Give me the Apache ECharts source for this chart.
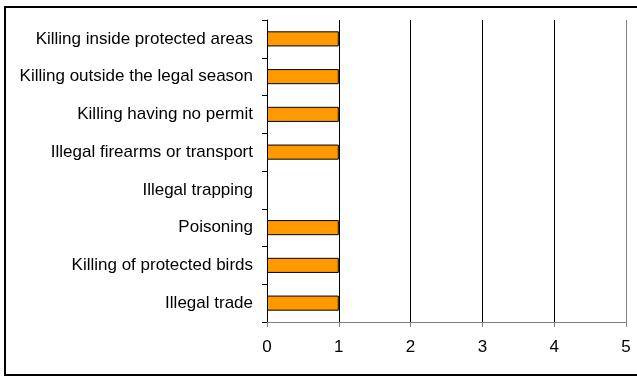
<!DOCTYPE html>
<html>
<head>
<meta charset="utf-8">
<script src="https://cdn.jsdelivr.net/npm/echarts@6/dist/echarts.min.js"></script>
<style>
html, body { margin: 0; padding: 0; background: #fff; }
#main { width: 637px; height: 376px; }
</style>
</head>
<body>
<div id="main"></div>
<script>
// categories listed bottom to top (category axis starts at the bottom)
var categories = [
    'Illegal trade',
    'Killing of protected birds',
    'Poisoning',
    'Illegal trapping',
    'Illegal firearms or transport',
    'Killing having no permit',
    'Killing outside the legal season',
    'Killing inside protected areas'
];
var values = [1, 1, 1, 0, 1, 1, 1, 1];
var xTicks = [0, 1, 2, 3, 4, 5];

var myChart = echarts.init(document.getElementById('main'));

// zero-length bars get no outline, like the original
var barData = values.map(function(v) {
    return v === 0 ? { value: v, itemStyle: { borderWidth: 0 } } : v;
});

var option = {
    animation: false,
    backgroundColor: '#fff',
    textStyle: { fontFamily: 'Liberation Sans, Arial, sans-serif' },
    graphic: [{
        type: 'rect',
        shape: { x: 5, y: 7, width: 640, height: 368 },
        style: { fill: 'none', stroke: '#000', lineWidth: 2 },
        z: -1
    }],
    grid: {
        left: 267,
        right: 11,
        top: 20,
        bottom: 54,
        containLabel: false
    },
    xAxis: {
        type: 'value',
        min: xTicks[0],
        max: xTicks[xTicks.length - 1],
        interval: 1,
        axisLine: { show: true, lineStyle: { color: '#808080', width: 1 } },
        axisTick: { show: true, length: 5, lineStyle: { color: '#808080' } },
        axisLabel: { color: '#000', fontSize: 17, margin: 17 },
        splitLine: {
            show: true,
            lineStyle: { color: ['#808080', '#000', '#000', '#000', '#000', '#808080'], width: 1 }
        }
    },
    yAxis: {
        type: 'category',
        data: categories,
        axisLine: { show: true, lineStyle: { color: '#000', width: 1 } },
        axisTick: { show: true, length: 5, lineStyle: { color: '#000' } },
        axisLabel: { color: '#000', fontSize: 17, margin: 14 },
        splitLine: { show: false }
    },
    series: [{
        type: 'bar',
        data: barData,
        barWidth: '40%',
        itemStyle: { color: '#FF9900', borderColor: '#000', borderWidth: 1 }
    }]
};

myChart.setOption(option);
</script>
</body>
</html>
